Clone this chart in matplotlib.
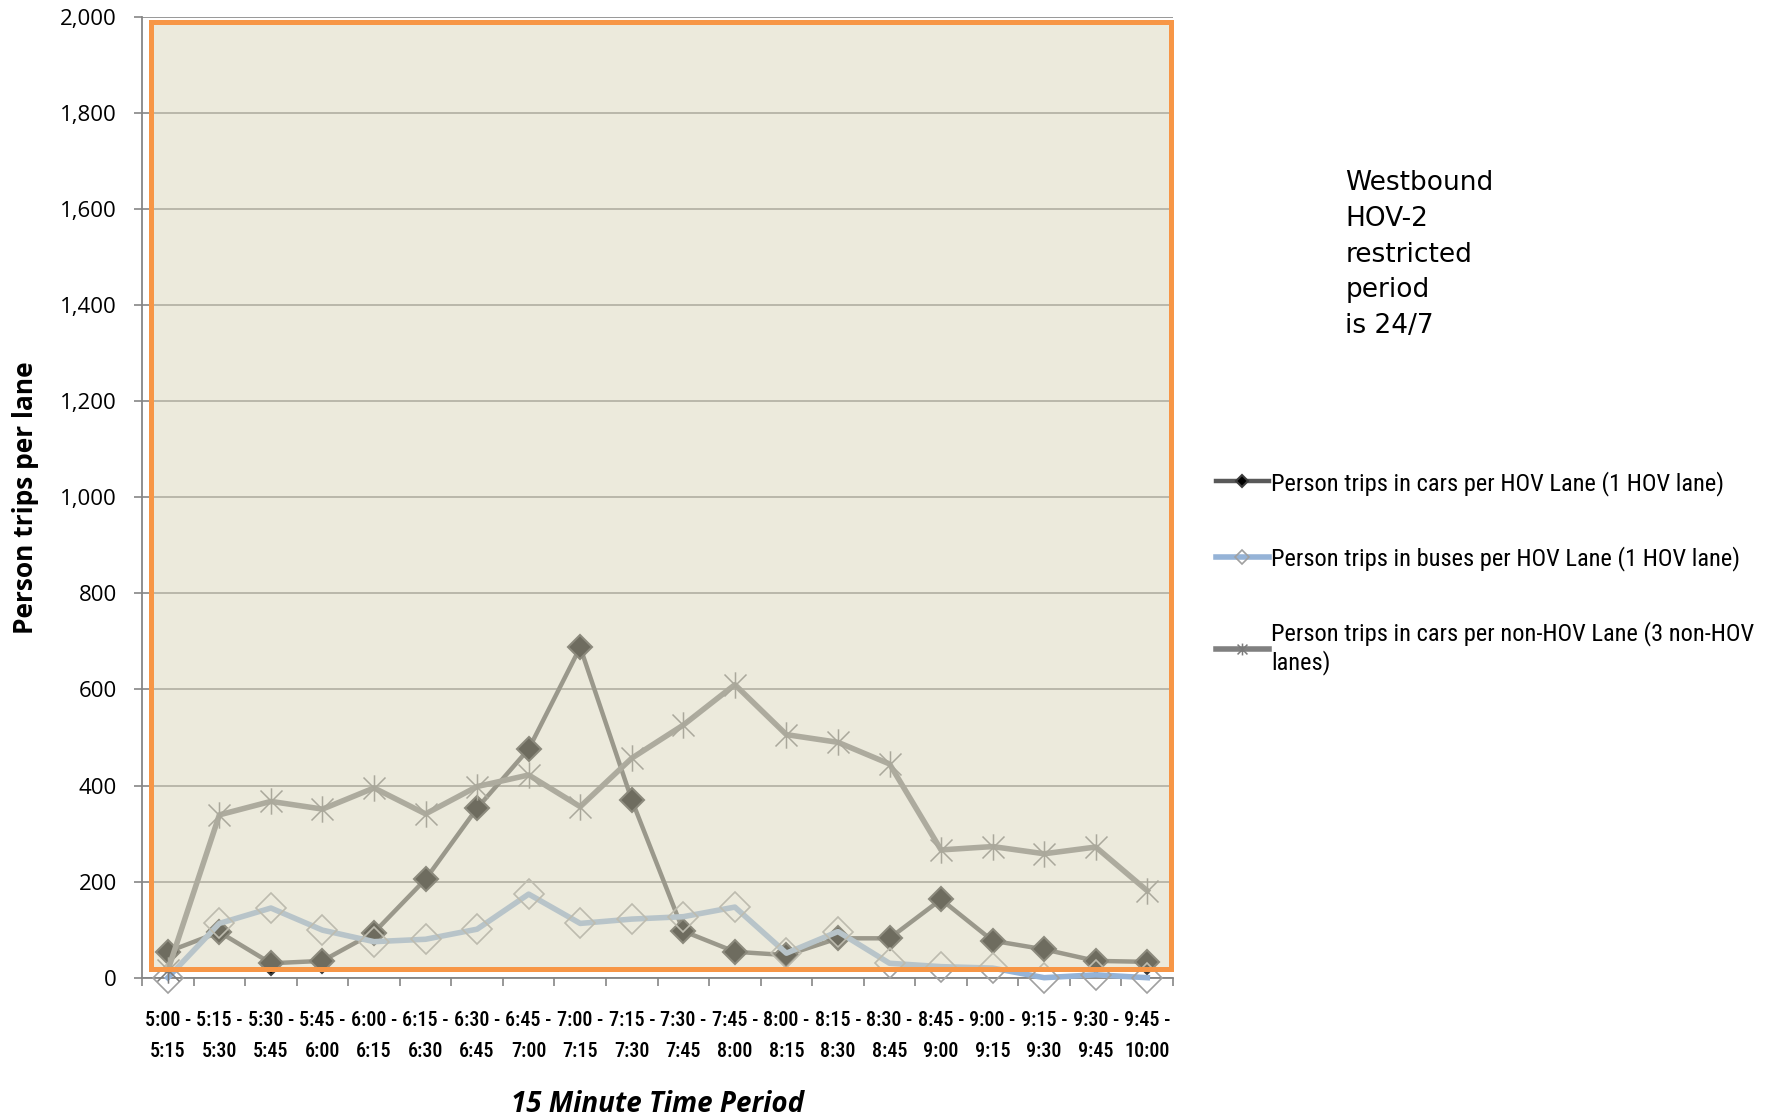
import matplotlib
matplotlib.use("Agg")
import matplotlib.pyplot as plt
from matplotlib.patches import Rectangle
from matplotlib.path import Path
import numpy as np

# 15 minute periods, 5:00 - 10:00
periods = ["5:00 -\n5:15", "5:15 -\n5:30", "5:30 -\n5:45", "5:45 -\n6:00",
           "6:00 -\n6:15", "6:15 -\n6:30", "6:30 -\n6:45", "6:45 -\n7:00",
           "7:00 -\n7:15", "7:15 -\n7:30", "7:30 -\n7:45", "7:45 -\n8:00",
           "8:00 -\n8:15", "8:15 -\n8:30", "8:30 -\n8:45", "8:45 -\n9:00",
           "9:00 -\n9:15", "9:15 -\n9:30", "9:30 -\n9:45", "9:45 -\n10:00"]

hov_cars = [54, 95, 30, 35, 94, 205, 353, 476, 688, 370,
            97, 54, 47, 82, 82, 163, 77, 59, 35, 33]
hov_buses = [0, 113, 145, 99, 75, 80, 101, 174, 113, 122,
             127, 147, 51, 96, 30, 23, 20, 0, 6, 0]
non_hov_cars = [15, 339, 367, 351, 395, 341, 398, 422, 356, 457,
                526, 610, 506, 490, 445, 266, 273, 258, 272, 181]

labels = ["Person trips in cars per HOV Lane (1 HOV lane)",
          "Person trips in buses per HOV Lane (1 HOV lane)",
          "Person trips in cars per non-HOV Lane (3 non-HOV\nlanes)"]

note = "Westbound\nHOV-2\nrestricted\nperiod\nis 24/7"

narrow = ["Roboto Condensed", "DejaVu Sans"]
sans = ["Open Sans", "DejaVu Sans"]

# excel style "star" marker (x with a vertical bar)
star = Path([(-1, -1), (1, 1), (-1, 1), (1, -1), (0, -1.2), (0, 1.2)],
            [Path.MOVETO, Path.LINETO, Path.MOVETO, Path.LINETO, Path.MOVETO, Path.LINETO])

fig = plt.figure(figsize=(17.89, 11.18), dpi=100)
ax = fig.add_axes([0.0794, 0.1255, 0.5763, 0.8593])

x = np.arange(len(periods))
grey = "#868686"

l1, = ax.plot(x, hov_cars, color="#595959", lw=3.2, marker="D", ms=12.5,
              mfc="black", mec="#3c3c3c", mew=1.5, clip_on=False, zorder=3)
l2, = ax.plot(x, hov_buses, color="#95B3D7", lw=4.0, marker="D", ms=15,
              mfc="none", mec="#A0A0A0", mew=1.2, clip_on=False, zorder=3)
l3, = ax.plot(x, non_hov_cars, color="#808080", lw=4.0, marker=star, ms=19,
              mfc="none", mec="#7a7a7a", mew=1.1, clip_on=False, zorder=3)

ax.set_xlim(-0.5, len(periods) - 0.5)
ax.set_ylim(0, 2000)
ax.set_yticks(np.arange(0, 2001, 200))
ax.set_yticklabels([f"{v:,}" for v in range(0, 2001, 200)], fontsize=16, family=sans)
ax.set_xticks(x)
ax.set_xticklabels(periods, fontsize=14.5, family=narrow, fontweight="medium",
                   linespacing=1.8)
ax.set_xticks(np.arange(-0.5, len(periods), 1), minor=True)

ax.tick_params(axis="x", which="major", length=0, pad=24)
ax.tick_params(axis="x", which="minor", length=6, width=1.2, color=grey, direction="out")
ax.tick_params(axis="y", length=6, width=1.2, color=grey, direction="out", pad=12)

ax.grid(axis="y", color=grey, lw=1.2)
ax.set_axisbelow(True)
for s in ["top", "right"]:
    ax.spines[s].set_visible(False)
for s in ["left", "bottom"]:
    ax.spines[s].set_color(grey)
    ax.spines[s].set_linewidth(1.3)

ax.set_ylabel("Person trips per lane", fontsize=19, fontweight="bold", family=sans)
ax.yaxis.set_label_coords(-0.100, 0.5)
ax.set_xlabel("15 Minute Time Period", fontsize=20, fontweight="bold", style="italic",
              family=sans)
ax.xaxis.set_label_coords(0.5, -0.117)

# semi transparent beige box with orange border laid over the plot
box = (0.0082, 0.0094)
bw, bh = 0.9978 - 0.0082, 0.9943 - 0.0094
ax.add_patch(Rectangle(box, bw, bh, transform=ax.transAxes, facecolor=(218/255, 214/255, 188/255),
                       alpha=0.51, edgecolor="none", zorder=5, clip_on=False))
ax.add_patch(Rectangle(box, bw, bh, transform=ax.transAxes, fill=False,
                       edgecolor="#F79646", lw=3.6, zorder=6, clip_on=False))

fig.legend([l1, l2, l3], labels, loc="upper left", bbox_to_anchor=(0.6797, 0.579),
           frameon=False, prop={"family": narrow, "size": 17.6}, handlelength=2.15,
           handletextpad=0.12, labelspacing=2.06, markerscale=0.45, borderpad=0,
           borderaxespad=0)

fig.text(0.752, 0.848, note, fontsize=19, family="DejaVu Sans", va="top", ha="left",
         linespacing=1.49)

fig.savefig("out.png", dpi=100)
